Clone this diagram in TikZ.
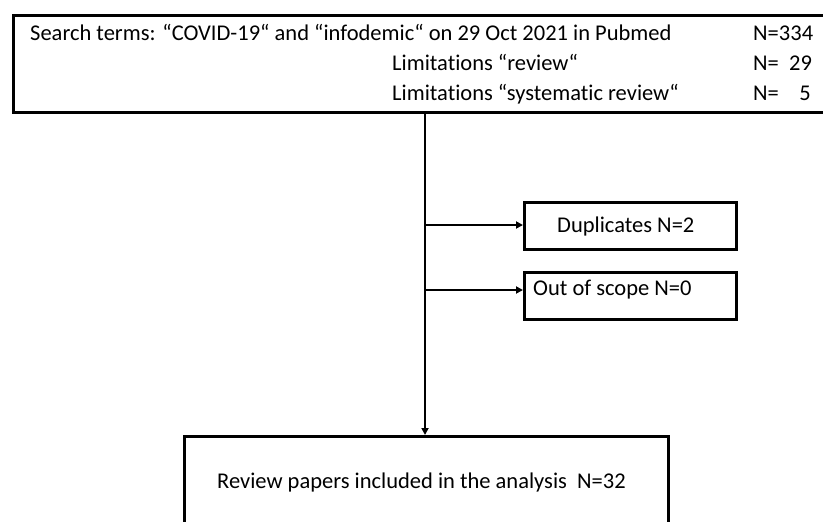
\documentclass[tikz,border=0pt]{standalone}
\usepackage{fontspec}
\setmainfont{Carlito}[Ligatures=NoCommon]
\usetikzlibrary{arrows.meta}
\begin{document}
\begin{tikzpicture}[x=1pt,y=-1pt,
  box/.style={draw,line width=2.5pt,inner sep=0pt},
  lbl/.style={font=\fontsize{22.5}{26}\selectfont,inner sep=0pt,anchor=base west},
  conn/.style={line width=2.2pt,-{Triangle[length=7pt,width=7pt]}}]
\useasboundingbox (0,0) rectangle (823,522);
\node[box,minimum width=830pt,minimum height=97pt,anchor=north west] (top) at (12,14) {};
\node[lbl] (t1) at (30,40) {Search terms: “COVID-19“ and “infodemic“ on 29 Oct 2021 in Pubmed};
\node[lbl] (t2) at (392,70) {Limitations “review“};
\node[lbl] (t3) at (392,100) {Limitations “systematic review“};
\node[lbl] (n1) at (753,40) {N=334};
\node[lbl] (n2) at (753,70) {N=\ \ 29};
\node[lbl] (n3) at (753,100) {N=\ \ \ \ 5};
\node[box,minimum width=212pt,minimum height=47pt,anchor=north west] (dup) at (523,201) {};
\node[lbl] (dupt) at (557,232) {Duplicates N=2};
\node[box,minimum width=212pt,minimum height=47pt,anchor=north west] (oos) at (523,271) {};
\node[lbl] (oost) at (533,295) {Out of scope N=0};
\node[box,minimum width=484pt,minimum height=120pt,anchor=north west] (bot) at (183,435) {};
\node[lbl] (bott) at (217,488) {Review papers included in the analysis\ \ N=32};
\coordinate (c1) at (425,225);
\coordinate (c2) at (425,290);
\draw[conn] (top.south -| 425,0) -- (bot.north -| 425,0);
\draw[conn] (c1) -- (dup.west |- c1);
\draw[conn] (c2) -- (oos.west |- c2);
\end{tikzpicture}
\end{document}
